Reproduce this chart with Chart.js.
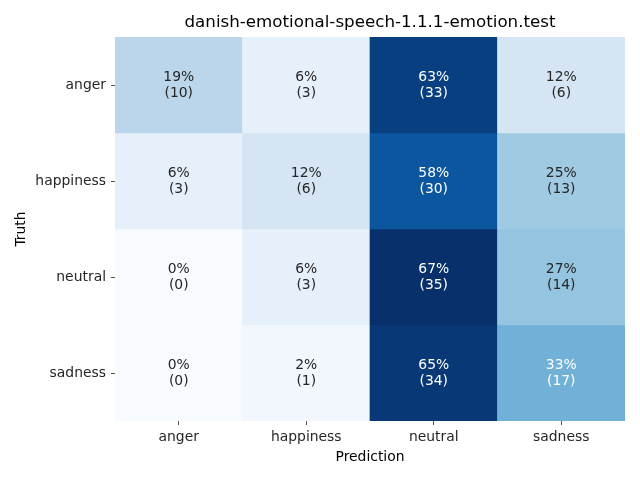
<!DOCTYPE html>
<html>
<head>
<meta charset="utf-8">
<script src="https://cdn.jsdelivr.net/npm/chart.js@4/dist/chart.umd.min.js"></script>
<style>
  html, body { margin: 0; padding: 0; background: #fff; }
  #wrap { width: 640px; height: 480px; }
</style>
</head>
<body>
<div id="wrap"><canvas id="cm" width="640" height="480"></canvas></div>
<script>
// confusion matrix data
const predLabels = ['anger', 'happiness', 'neutral', 'sadness'];
const truthLabels = ['anger', 'happiness', 'neutral', 'sadness'];
const countsAnger = [10, 3, 33, 6];
const countsHappiness = [3, 6, 30, 13];
const countsNeutral = [0, 3, 35, 14];
const countsSadness = [0, 1, 34, 17];
const counts = [countsAnger, countsHappiness, countsNeutral, countsSadness];

// matplotlib "Blues"
const blues = ['#f7fbff', '#deebf7', '#c6dbef', '#9ecae1', '#6baed6', '#4292c6', '#2171b5', '#08519c', '#08306b'];

function hexRgb(h) {
    return [parseInt(h.slice(1, 3), 16), parseInt(h.slice(3, 5), 16), parseInt(h.slice(5, 7), 16)];
}

function bluesAt(t) {
    t = Math.max(0, Math.min(1, t));
    const p = t * (blues.length - 1);
    const i = Math.min(Math.floor(p), blues.length - 2);
    const f = p - i;
    const a = hexRgb(blues[i]), b = hexRgb(blues[i + 1]);
    return a.map((v, k) => Math.round(v + (b[k] - v) * f));
}

function luminance(rgb) {
    const c = rgb.map(v => {
        v = v / 255;
        return v <= 0.03928 ? v / 12.92 : Math.pow((v + 0.055) / 1.055, 2.4);
    });
    return 0.2126 * c[0] + 0.7152 * c[1] + 0.0722 * c[2];
}

// row-normalised fractions
const fracs = counts.map(row => {
    const s = row.reduce((a, b) => a + b, 0);
    return row.map(v => v / s);
});
const vmax = Math.max(...fracs.flat());
const vmin = Math.min(...fracs.flat());

const txtColor = '#262626';
const font = 'DejaVu Sans';
const fs = 13.9;

// each truth row becomes one stacked dataset with height 1
const datasets = counts.map((row, r) => ({
    label: truthLabels[r],
    data: row.map(() => 1),
    backgroundColor: fracs[r].map(f => {
        const c = bluesAt((f - vmin) / (vmax - vmin));
        return `rgb(${c[0]},${c[1]},${c[2]})`;
    }),
    borderWidth: 0,
    barPercentage: 1,
    categoryPercentage: 1,
    stack: 'cm'
}));

// write "xx%\n(n)" in each cell
const annotate = {
    id: 'annotate',
    afterDatasetsDraw(chart) {
        const ctx = chart.ctx;
        ctx.save();
        ctx.font = `${fs}px "${font}"`;
        ctx.textAlign = 'center';
        ctx.textBaseline = 'middle';
        chart.data.datasets.forEach((ds, r) => {
            const meta = chart.getDatasetMeta(r);
            meta.data.forEach((bar, c) => {
                const f = fracs[r][c];
                const rgb = bluesAt((f - vmin) / (vmax - vmin));
                ctx.fillStyle = luminance(rgb) > 0.408 ? txtColor : '#ffffff';
                const cy = (bar.y + bar.base) / 2;
                ctx.fillText(Math.round(f * 100) + '%', bar.x, cy - 8);
                ctx.fillText('(' + counts[r][c] + ')', bar.x, cy + 8);
            });
        });
        ctx.restore();
    }
};

new Chart(document.getElementById('cm').getContext('2d'), {
    type: 'bar',
    data: { labels: predLabels, datasets: datasets },
    plugins: [annotate],
    options: {
        responsive: false,
        animation: false,
        layout: { padding: { left: 0, right: 15, top: 0, bottom: 14 } },
        plugins: {
            legend: { display: false },
            tooltip: { enabled: false },
            title: {
                display: true,
                text: 'danish-emotional-speech-1.1.1-emotion.test',
                color: '#000',
                fullSize: false,
                font: { family: font, size: 16.7, weight: 'normal' },
                padding: { top: 13, bottom: 4 }
            }
        },
        scales: {
            x: {
                stacked: true,
                offset: true,
                grid: { display: true, drawOnChartArea: false, offset: false, tickLength: 4, color: txtColor, lineWidth: 0.8 },
                border: { display: false },
                ticks: { color: txtColor, font: { family: font, size: fs }, padding: 4, maxRotation: 0 },
                title: { display: true, text: 'Prediction', color: '#000', font: { family: font, size: fs }, padding: { top: 2, bottom: 0 } },
                afterFit(scale) { scale.height = 45; }
            },
            y: {
                stacked: true,
                min: 0,
                max: 4,
                reverse: true,
                grid: { display: true, drawOnChartArea: false, tickLength: 4, color: txtColor, lineWidth: 0.8 },
                border: { display: false },
                afterBuildTicks(scale) {
                    scale.ticks = truthLabels.map((l, i) => ({ value: i + 0.5 }));
                },
                ticks: {
                    color: txtColor,
                    font: { family: font, size: fs },
                    padding: 5,
                    callback: (v) => truthLabels[Math.floor(v)]
                },
                title: { display: true, text: 'Truth', color: '#000', font: { family: font, size: fs }, padding: { top: 13, bottom: 4 } },
                afterFit(scale) { scale.width = 115; }
            }
        }
    }
});
</script>
</body>
</html>
